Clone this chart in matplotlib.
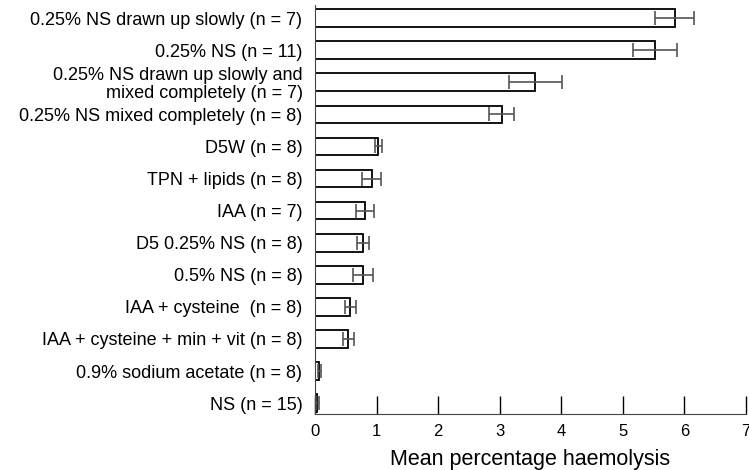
import numpy as np
import matplotlib.pyplot as plt

plt.rcParams['font.family'] = ['Liberation Sans', 'DejaVu Sans']

labels = [
    "0.25% NS drawn up slowly (n = 7)",
    "0.25% NS (n = 11)",
    "0.25% NS drawn up slowly and\nmixed completely (n = 7)",
    "0.25% NS mixed completely (n = 8)",
    "D5W (n = 8)",
    "TPN + lipids (n = 8)",
    "IAA (n = 7)",
    "D5 0.25% NS (n = 8)",
    "0.5% NS (n = 8)",
    "IAA + cysteine  (n = 8)",
    "IAA + cysteine + min + vit (n = 8)",
    "0.9% sodium acetate (n = 8)",
    "NS (n = 15)",
]
means = [5.84, 5.52, 3.58, 3.03, 1.03, 0.92, 0.81, 0.78, 0.78, 0.57, 0.54, 0.07, 0.04]
errs = [0.32, 0.36, 0.43, 0.20, 0.06, 0.15, 0.15, 0.09, 0.16, 0.09, 0.09, 0.02, 0.02]

fig = plt.figure(figsize=(7.49, 4.70), dpi=100)
ax = fig.add_axes([315 / 749, 1 - 414 / 470, 431 / 749, 409 / 470])

y = np.arange(len(labels))
ax.barh(y, means, height=0.55, color='white', edgecolor='black', linewidth=1.3)
ax.errorbar(means, y, xerr=errs, fmt='none', ecolor='#555555', elinewidth=1.2,
            capsize=5, capthick=1.2)

ax.set_xlim(0, 7)
ax.set_ylim(12.34, -0.41)
ax.set_yticks(y)
ax.set_yticklabels(labels, fontsize=13, linespacing=1.05)
ax.tick_params(axis='y', length=0, pad=9)
ax.set_xticks(range(8))
ax.tick_params(axis='x', direction='in', length=13, width=1, pad=7.5, labelsize=12)
ax.spines['top'].set_visible(False)
ax.spines['right'].set_visible(False)
ax.spines['left'].set_color('#444444')
ax.spines['bottom'].set_color('#444444')
ax.set_xlabel("Mean percentage haemolysis", fontsize=15.5, labelpad=7)

fig.savefig("out.png", dpi=100)
